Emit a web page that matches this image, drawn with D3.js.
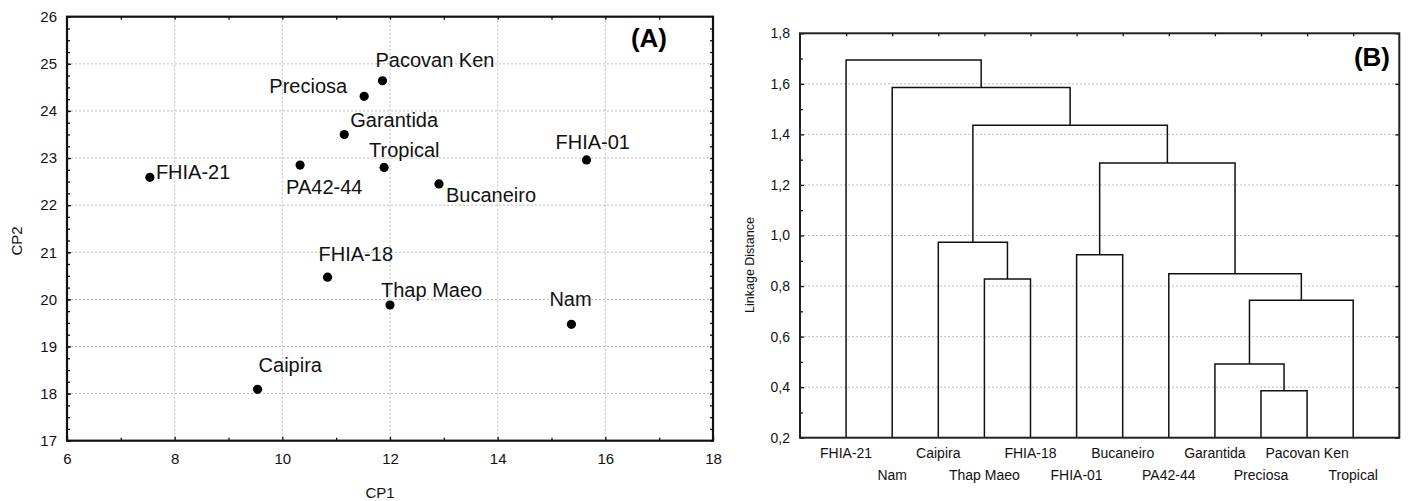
<!DOCTYPE html>
<html>
<head>
<meta charset="utf-8">
<script src="https://cdn.jsdelivr.net/npm/d3@7"></script>
<style>
  body { margin: 0; background: #fff; }
  svg { display: block; font-family: Arial, "Liberation Sans", sans-serif; }
  .grid line { stroke: #bdbdbd; stroke-width: 1; stroke-dasharray: 2,2; }
  .axis path { display: none; }
  .axis line { stroke: #111; stroke-width: 1.3; }
</style>
</head>
<body>
<svg id="chart" width="1410" height="501"></svg>
<script>
// panel A data: principal components
var cultivars = ["FHIA-21","PA42-44","Garantida","Preciosa","Pacovan Ken","Tropical","Bucaneiro","FHIA-01","FHIA-18","Caipira","Thap Maeo","Nam"]
var cp1 = [7.54, 10.33, 11.15, 11.52, 11.86, 11.89, 12.91, 15.65, 10.84, 9.54, 12.0, 15.37]
var cp2 = [22.59, 22.85, 23.50, 24.31, 24.64, 22.80, 22.45, 22.96, 20.47, 18.09, 19.88, 19.47]
var cp1Ticks = [6, 8, 10, 12, 14, 16, 18]
var cp2Ticks = [17, 18, 19, 20, 21, 22, 23, 24, 25, 26]

// panel B data: dendrogram leaves (in drawn order) and merges [left, right, height]
// ids 0..11 are leaves, merge k gets id 12+k
var leaves = ["FHIA-21","Nam","Caipira","Thap Maeo","FHIA-18","FHIA-01","Bucaneiro","PA42-44","Garantida","Preciosa","Pacovan Ken","Tropical"]
var merges = [
  [9, 10, 0.386],
  [8, 12, 0.492],
  [13, 11, 0.744],
  [7, 14, 0.849],
  [5, 6, 0.924],
  [16, 15, 1.287],
  [3, 4, 0.828],
  [2, 18, 0.973],
  [19, 17, 1.436],
  [1, 20, 1.586],
  [0, 21, 1.694]
]
var distTicks = [0.2, 0.4, 0.6, 0.8, 1.0, 1.2, 1.4, 1.6, 1.8]

// label placement for the scatter (pixels from the dot)
var labelPos = {
  "FHIA-21": [6, 2, "start"],
  "PA42-44": [-14, 29, "start"],
  "Garantida": [6, -7, "start"],
  "Preciosa": [-17, -3, "end"],
  "Pacovan Ken": [-7, -14, "start"],
  "Tropical": [-15, -10, "start"],
  "Bucaneiro": [7, 18, "start"],
  "FHIA-01": [-31, -11, "start"],
  "FHIA-18": [-9, -16, "start"],
  "Caipira": [1, -17, "start"],
  "Thap Maeo": [-9, -8, "start"],
  "Nam": [-22, -18, "start"]
}

const svg = d3.select('#chart')

//////////////// panel A ////////////////
const A = {left: 67, right: 713, top: 16.7, bottom: 440.7}
const xA = d3.scaleLinear().domain([6, 18]).range([A.left, A.right])
const yA = d3.scaleLinear().domain([17, 26]).range([A.bottom, A.top])

const gA = svg.append('g')

// grid
gA.append('g').attr('class', 'grid').selectAll('line')
  .data(cp1Ticks.slice(1, -1)).join('line')
  .attr('x1', d => xA(d)).attr('x2', d => xA(d))
  .attr('y1', A.top).attr('y2', A.bottom)
gA.append('g').attr('class', 'grid').selectAll('line')
  .data(cp2Ticks.slice(1, -1)).join('line')
  .attr('x1', A.left).attr('x2', A.right)
  .attr('y1', d => yA(d)).attr('y2', d => yA(d))

// axes with inward ticks
gA.append('g').attr('class', 'axis').attr('transform', `translate(0,${A.bottom})`)
  .call(d3.axisBottom(xA).tickValues(cp1Ticks).tickSize(-4).tickPadding(13))
  .call(g => g.selectAll('text').style('font-size', '15px').attr('fill', '#111'))
gA.append('g').attr('class', 'axis').attr('transform', `translate(0,${A.bottom})`)
  .call(d3.axisBottom(xA).tickValues(d3.range(7, 18, 2)).tickSize(-3).tickFormat(''))
gA.append('g').attr('class', 'axis').attr('transform', `translate(0,${A.top})`)
  .call(d3.axisTop(xA).tickValues(d3.range(7, 18, 1)).tickSize(-3).tickFormat(''))
gA.append('g').attr('class', 'axis').attr('transform', `translate(${A.left},0)`)
  .call(d3.axisLeft(yA).tickValues(cp2Ticks).tickSize(-4).tickPadding(10))
  .call(g => g.selectAll('text').style('font-size', '15px').attr('fill', '#111'))
gA.append('g').attr('class', 'axis').attr('transform', `translate(${A.left},0)`)
  .call(d3.axisLeft(yA).tickValues(d3.range(17, 26, 0.25)).tickSize(-3).tickFormat(''))
gA.append('g').attr('class', 'axis').attr('transform', `translate(${A.right},0)`)
  .call(d3.axisRight(yA).tickValues(d3.range(17, 26, 0.25)).tickSize(-3).tickFormat(''))

gA.append('rect')
  .attr('x', A.left).attr('y', A.top)
  .attr('width', A.right - A.left).attr('height', A.bottom - A.top)
  .attr('fill', 'none').attr('stroke', '#111').attr('stroke-width', 2.2)

// points + labels
const pts = cultivars.map((c, i) => ({name: c, x: cp1[i], y: cp2[i]}))
gA.append('g').selectAll('circle')
  .data(pts).join('circle')
  .attr('cx', d => xA(d.x)).attr('cy', d => yA(d.y)).attr('r', 4.6)
  .attr('fill', '#000')
gA.append('g').selectAll('text')
  .data(pts).join('text')
  .attr('x', d => xA(d.x) + labelPos[d.name][0])
  .attr('y', d => yA(d.y) + labelPos[d.name][1])
  .attr('text-anchor', d => labelPos[d.name][2])
  .style('font-size', '20px').attr('fill', '#111')
  .text(d => d.name)

gA.append('text').attr('x', 667).attr('y', 46.5).attr('text-anchor', 'end')
  .style('font-size', '26px').style('font-weight', 'bold').text('(A)')

svg.append('text').attr('x', 380).attr('y', 498).attr('text-anchor', 'middle')
  .style('font-size', '15px').attr('fill', '#111').text('CP1')
svg.append('text').attr('transform', 'translate(22,241) rotate(-90)').attr('text-anchor', 'middle')
  .style('font-size', '15px').attr('fill', '#111').text('CP2')

//////////////// panel B ////////////////
const B = {left: 800, right: 1399.3, top: 33.3, bottom: 437.7}
const xB = d3.scalePoint().domain(leaves).range([B.left, B.right]).padding(1)
const yB = d3.scaleLinear().domain([0.2, 1.8]).range([B.bottom, B.top])
const fmt = d => d.toFixed(1).replace('.', ',')

const gB = svg.append('g')

gB.append('g').attr('class', 'grid').selectAll('line')
  .data(distTicks.slice(1, -1)).join('line')
  .attr('x1', B.left).attr('x2', B.right)
  .attr('y1', d => yB(d)).attr('y2', d => yB(d))

gB.append('g').attr('class', 'axis').attr('transform', `translate(${B.left},0)`)
  .call(d3.axisLeft(yB).tickValues(distTicks).tickSize(-4).tickPadding(10).tickFormat(fmt))
  .call(g => g.selectAll('text').style('font-size', '14px').attr('fill', '#111'))
gB.append('g').attr('class', 'axis').attr('transform', `translate(${B.left},0)`)
  .call(d3.axisLeft(yB).tickValues(d3.range(0.3, 1.8, 0.2)).tickSize(-3).tickFormat(''))
gB.append('g').attr('class', 'axis').attr('transform', `translate(${B.right},0)`)
  .call(d3.axisRight(yB).tickValues(distTicks).tickSize(-4).tickFormat(''))
gB.append('g').attr('class', 'axis').attr('transform', `translate(0,${B.top})`)
  .call(d3.axisTop(xB).tickSize(-3).tickFormat(''))

// leaf labels, two staggered rows
gB.append('g').selectAll('text')
  .data(leaves).join('text')
  .attr('x', d => xB(d))
  .attr('y', (d, i) => i % 2 == 0 ? 458 : 480)
  .attr('text-anchor', 'middle')
  .style('font-size', '14px').attr('fill', '#111')
  .text(d => d)

// dendrogram links
var nodeX = leaves.map(d => xB(d))
var nodeH = leaves.map(d => 0.2)
var links = []
merges.forEach(function (m) {
  var a = m[0], b = m[1], h = m[2]
  links.push({x1: nodeX[a], h1: nodeH[a], x2: nodeX[b], h2: nodeH[b], h: h})
  nodeX.push((nodeX[a] + nodeX[b]) / 2)
  nodeH.push(h)
})
gB.append('g').selectAll('path')
  .data(links).join('path')
  .attr('d', d => `M${d.x1},${yB(d.h1)}V${yB(d.h)}H${d.x2}V${yB(d.h2)}`)
  .attr('fill', 'none').attr('stroke', '#111').attr('stroke-width', 1.5)

gB.append('rect')
  .attr('x', B.left).attr('y', B.top)
  .attr('width', B.right - B.left).attr('height', B.bottom - B.top)
  .attr('fill', 'none').attr('stroke', '#222').attr('stroke-width', 2)

gB.append('text').attr('x', 1390).attr('y', 66).attr('text-anchor', 'end')
  .style('font-size', '26px').style('font-weight', 'bold').text('(B)')

svg.append('text').attr('transform', 'translate(754,265) rotate(-90)').attr('text-anchor', 'middle')
  .style('font-size', '12.5px').attr('fill', '#111').text('Linkage Distance')
</script>
</body>
</html>
